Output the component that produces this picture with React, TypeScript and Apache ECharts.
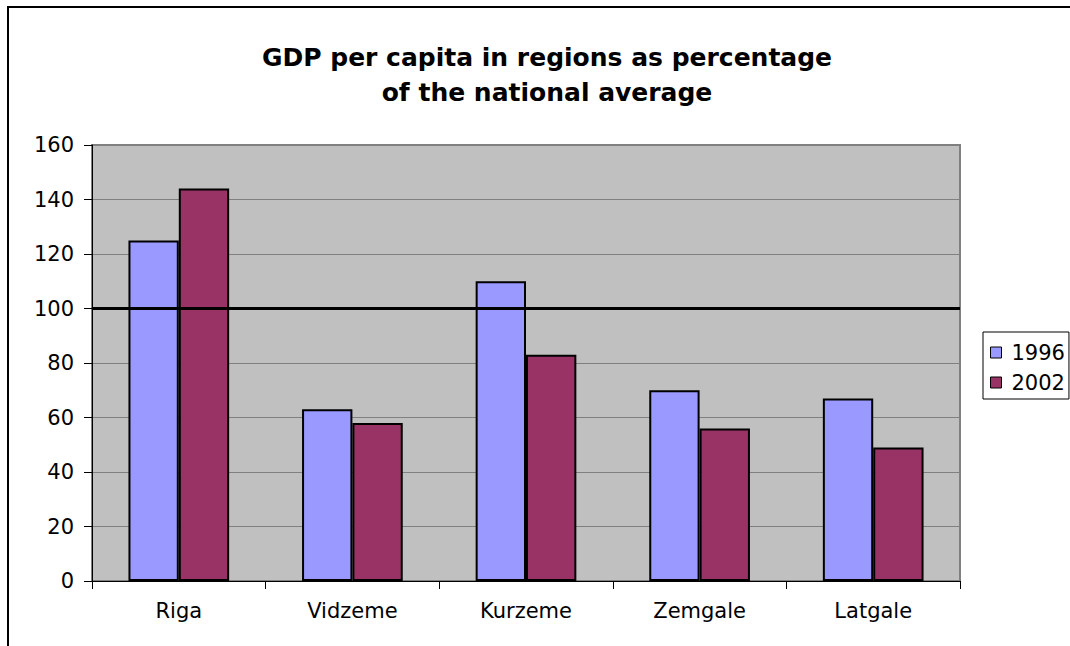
import React, { useEffect, useRef } from "react";
import * as echarts from "echarts";

const titleLines = ["GDP per capita in regions as percentage", "of the national average"];
const regions = ["Riga", "Vidzeme", "Kurzeme", "Zemgale", "Latgale"];
const values1996 = [125, 63, 110, 70, 67];
const values2002 = [144, 58, 83, 56, 49];
const seriesNames = ["1996", "2002"];
const nationalAverage = 100;
const yMin = 0;
const yMax = 160;
const yStep = 20;

const FONT = "'DejaVu Sans', Verdana, sans-serif";

export default function App() {
  const ref = useRef<HTMLDivElement>(null);

  useEffect(() => {
    if (!ref.current) return;
    const chart = echarts.init(ref.current, undefined, { renderer: "svg" });
    chart.setOption({
      animation: false,
      backgroundColor: "#ffffff",
      textStyle: { fontFamily: FONT },
      graphic: [
        {
          type: "rect",
          shape: { x: 8, y: 7, width: 1100, height: 700 },
          style: { fill: "none", stroke: "#000", lineWidth: 2 },
          silent: true,
        },
        {
          type: "text",
          x: 547,
          y: 57,
          style: {
            text: titleLines[0],
            font: `bold 25px ${FONT}`,
            fill: "#000",
            align: "center",
            verticalAlign: "middle",
          },
        },
        {
          type: "text",
          x: 547,
          y: 92,
          style: {
            text: titleLines[1],
            font: `bold 25px ${FONT}`,
            fill: "#000",
            align: "center",
            verticalAlign: "middle",
          },
        },
      ],
      legend: {
        orient: "vertical",
        left: 983,
        top: 332,
        padding: [10, 4, 6, 7],
        itemGap: 9,
        itemWidth: 11,
        itemHeight: 11,
        icon: "rect",
        borderColor: "#000",
        borderWidth: 1,
        backgroundColor: "#fff",
        itemStyle: { borderColor: "#000", borderWidth: 1 },
        textStyle: {
          fontFamily: FONT,
          fontSize: 21,
          color: "#000",
          lineHeight: 21,
          padding: [0, 0, 0, 5],
        },
        data: seriesNames,
      },
      grid: {
        left: 92,
        top: 145,
        right: 110,
        bottom: 65,
        show: true,
        backgroundColor: "#C0C0C0",
        borderColor: "#808080",
        borderWidth: 2,
      },
      xAxis: {
        type: "category",
        data: regions,
        axisLine: { show: true, lineStyle: { color: "#000", width: 1 } },
        axisTick: { show: true, length: 8, lineStyle: { color: "#000" } },
        axisLabel: { fontFamily: FONT, fontSize: 21, color: "#000", margin: 19 },
        splitLine: { show: false },
      },
      yAxis: {
        type: "value",
        min: yMin,
        max: yMax,
        interval: yStep,
        axisLine: { show: true, lineStyle: { color: "#000", width: 1 } },
        axisTick: { show: true, length: 8, lineStyle: { color: "#000" } },
        axisLabel: { fontFamily: FONT, fontSize: 21, color: "#000", margin: 18 },
        splitLine: { show: true, lineStyle: { color: "#808080", width: 1 } },
      },
      series: [
        {
          name: seriesNames[0],
          type: "bar",
          data: values1996,
          barGap: "0%",
          barCategoryGap: "42%",
          itemStyle: { color: "#9999FF", borderColor: "#000", borderWidth: 2 },
          markLine: {
            silent: true,
            symbol: ["none", "none"],
            label: { show: false },
            lineStyle: { color: "#000", width: 3, type: "solid" },
            data: [{ yAxis: nationalAverage }],
            z: 10,
          },
        },
        {
          name: seriesNames[1],
          type: "bar",
          data: values2002,
          barGap: "0%",
          barCategoryGap: "42%",
          itemStyle: { color: "#993366", borderColor: "#000", borderWidth: 2 },
        },
      ],
    });
    return () => chart.dispose();
  }, []);

  return (
    <div
      ref={ref}
      style={{ position: "absolute", left: 0, top: 0, width: 1070, height: 646 }}
    />
  );
}
